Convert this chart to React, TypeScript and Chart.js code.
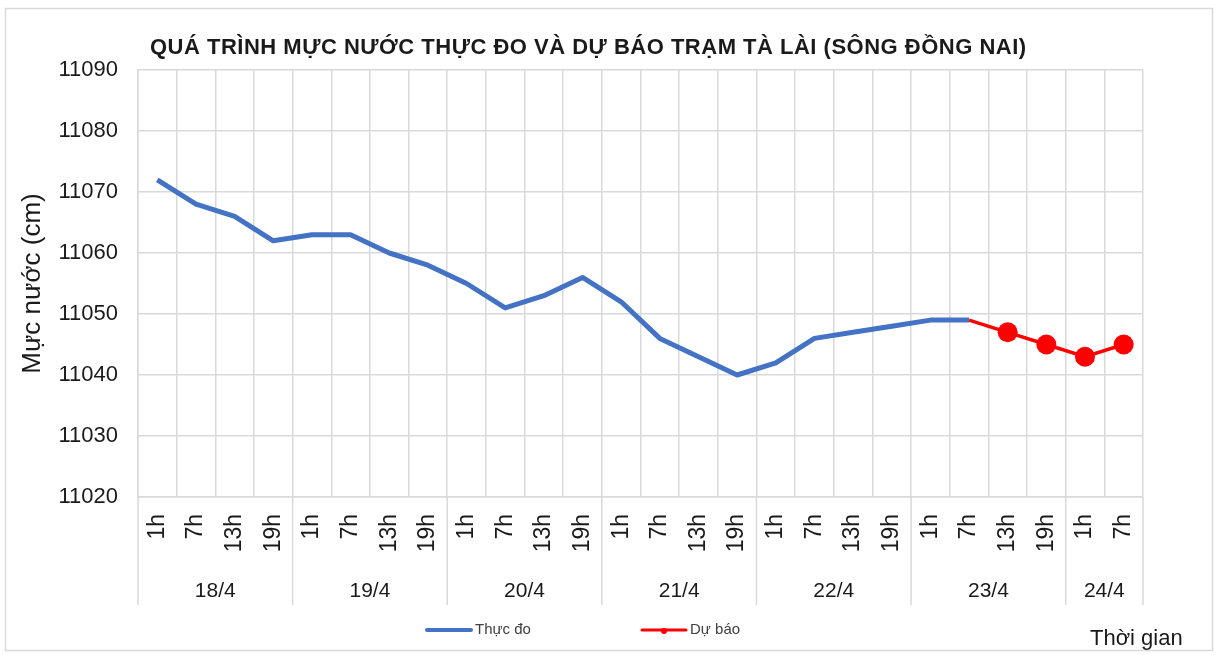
import React, { useEffect, useRef } from "react";
import { Chart, registerables } from "chart.js";
Chart.register(...registerables);

const titleText = "QUÁ TRÌNH MỰC NƯỚC THỰC ĐO VÀ DỰ BÁO TRẠM TÀ LÀI (SÔNG ĐỒNG NAI)";
const yTitle = "Mực nước (cm)";
const xTitle = "Thời gian";
const days = ["18/4", "19/4", "20/4", "21/4", "22/4", "23/4", "24/4"];
const dayHourCounts = [4, 4, 4, 4, 4, 4, 2];
const hourLabels = [
  "1h", "7h", "13h", "19h",
  "1h", "7h", "13h", "19h",
  "1h", "7h", "13h", "19h",
  "1h", "7h", "13h", "19h",
  "1h", "7h", "13h", "19h",
  "1h", "7h", "13h", "19h",
  "1h", "7h",
];
const measured: (number | null)[] = [
  11072, 11068, 11066, 11062,
  11063, 11063, 11060, 11058,
  11055, 11051, 11053, 11056,
  11052, 11046, 11043, 11040,
  11042, 11046, 11047, 11048,
  11049, 11049, null, null,
  null, null,
];
const forecast: (number | null)[] = [
  null, null, null, null,
  null, null, null, null,
  null, null, null, null,
  null, null, null, null,
  null, null, null, null,
  null, 11049, 11047, 11045,
  11043, 11045,
];
const seriesNames = ["Thực đo", "Dự báo"];
const yMin = 11020;
const yMax = 11090;
const yStep = 10;

const FONT = "'Liberation Sans', Arial, sans-serif";
const BLUE = "#4472C4";
const RED = "#FF0000";
const GRID = "#d9d9d9";
const TEXT = "#1a1a1a";

const decorPlugin = {
  id: "decor",
  afterDraw(chart: any) {
    const ctx = chart.ctx;
    const x = chart.scales.x;
    const area = chart.chartArea;
    ctx.save();
    // outer border
    ctx.strokeStyle = GRID;
    ctx.lineWidth = 1.5;
    ctx.strokeRect(5.5, 8.5, 1207, 642);

    // title
    ctx.fillStyle = TEXT;
    ctx.font = `bold 22px ${FONT}`;
    (ctx as any).letterSpacing = "0.5px";
    ctx.textAlign = "left";
    ctx.textBaseline = "alphabetic";
    ctx.fillText(titleText, 150, 54);
    (ctx as any).letterSpacing = "0px";

    // day group separators and labels
    const sepBottom = 605;
    ctx.strokeStyle = GRID;
    ctx.lineWidth = 1.5;
    let idx = 0;
    const bounds: number[] = [x.left];
    for (let d = 0; d < days.length; d++) {
      idx += dayHourCounts[d];
      if (idx < hourLabels.length) {
        bounds.push((x.getPixelForValue(idx - 1) + x.getPixelForValue(idx)) / 2);
      } else {
        bounds.push(x.right);
      }
    }
    for (const b of bounds) {
      ctx.beginPath();
      ctx.moveTo(b, area.bottom);
      ctx.lineTo(b, sepBottom);
      ctx.stroke();
    }
    ctx.fillStyle = TEXT;
    ctx.font = `21px ${FONT}`;
    ctx.textAlign = "center";
    ctx.textBaseline = "middle";
    for (let d = 0; d < days.length; d++) {
      ctx.fillText(days[d], (bounds[d] + bounds[d + 1]) / 2, 591);
    }

    // legend
    const ly = 630;
    ctx.lineCap = "round";
    ctx.strokeStyle = BLUE;
    ctx.lineWidth = 4;
    ctx.beginPath();
    ctx.moveTo(427, ly);
    ctx.lineTo(471, ly);
    ctx.stroke();
    ctx.strokeStyle = RED;
    ctx.lineWidth = 3;
    ctx.beginPath();
    ctx.moveTo(642, ly);
    ctx.lineTo(686, ly);
    ctx.stroke();
    ctx.fillStyle = RED;
    ctx.beginPath();
    ctx.arc(664, ly + 1, 3, 0, Math.PI * 2);
    ctx.fill();
    ctx.fillStyle = "#404040";
    ctx.font = `15px ${FONT}`;
    ctx.textAlign = "left";
    ctx.textBaseline = "middle";
    ctx.fillText(seriesNames[0], 475, ly);
    ctx.fillText(seriesNames[1], 690, ly);

    // x axis title
    ctx.fillStyle = TEXT;
    ctx.font = `22px ${FONT}`;
    ctx.textBaseline = "alphabetic";
    ctx.fillText(xTitle, 1090, 645);
    ctx.restore();
  },
};

export default function App() {
  const ref = useRef<HTMLCanvasElement | null>(null);
  useEffect(() => {
    document.body.style.margin = "0";
    const canvas = ref.current!;
    const chart = new Chart(canvas, {
      type: "line",
      data: {
        labels: hourLabels,
        datasets: [
          {
            label: seriesNames[0],
            data: measured,
            borderColor: BLUE,
            backgroundColor: BLUE,
            borderWidth: 5,
            pointRadius: 0,
            tension: 0,
            spanGaps: false,
            borderJoinStyle: "round",
          },
          {
            label: seriesNames[1],
            data: forecast,
            borderColor: RED,
            backgroundColor: RED,
            borderWidth: 3.5,
            pointRadius: forecast.map((v, i) => (v !== null && i > 0 && forecast[i - 1] !== null ? 10 : 0)),
            pointHoverRadius: 10,
            pointBorderWidth: 0,
            tension: 0,
          },
        ],
      },
      plugins: [decorPlugin],
      options: {
        animation: false,
        responsive: false,
        maintainAspectRatio: false,
        events: [],
        layout: { padding: { top: 70, right: 74, bottom: 0, left: 0 } },
        plugins: {
          legend: { display: false },
          title: { display: false },
          tooltip: { enabled: false },
        },
        scales: {
          x: {
            type: "category",
            offset: true,
            grid: { offset: true, color: GRID, lineWidth: 1.5, drawTicks: false },
            border: { color: GRID, width: 1.5 },
            ticks: {
              autoSkip: false,
              minRotation: 90,
              maxRotation: 90,
              padding: 17,
              color: TEXT,
              font: { family: FONT, size: 23 },
            },
            afterFit(scale: any) {
              scale.height = 158;
            },
          },
          y: {
            min: yMin,
            max: yMax,
            grid: { color: GRID, lineWidth: 1.5, drawTicks: false },
            border: { color: GRID, width: 1.5 },
            ticks: {
              stepSize: yStep,
              padding: 20,
              color: TEXT,
              font: { family: FONT, size: 22 },
              callback: (v: any) => String(v),
            },
            title: {
              display: true,
              text: yTitle,
              color: TEXT,
              font: { family: FONT, size: 26 },
              padding: { top: 17, bottom: 0 },
            },
            afterFit(scale: any) {
              scale.width = 138;
            },
          },
        },
      },
    } as any);
    return () => chart.destroy();
  }, []);
  return (
    <div style={{ position: "absolute", left: 0, top: 0, width: 1217, height: 655, background: "#fff" }}>
      <canvas ref={ref} width={1217} height={655} style={{ display: "block", width: 1217, height: 655 }} />
    </div>
  );
}
